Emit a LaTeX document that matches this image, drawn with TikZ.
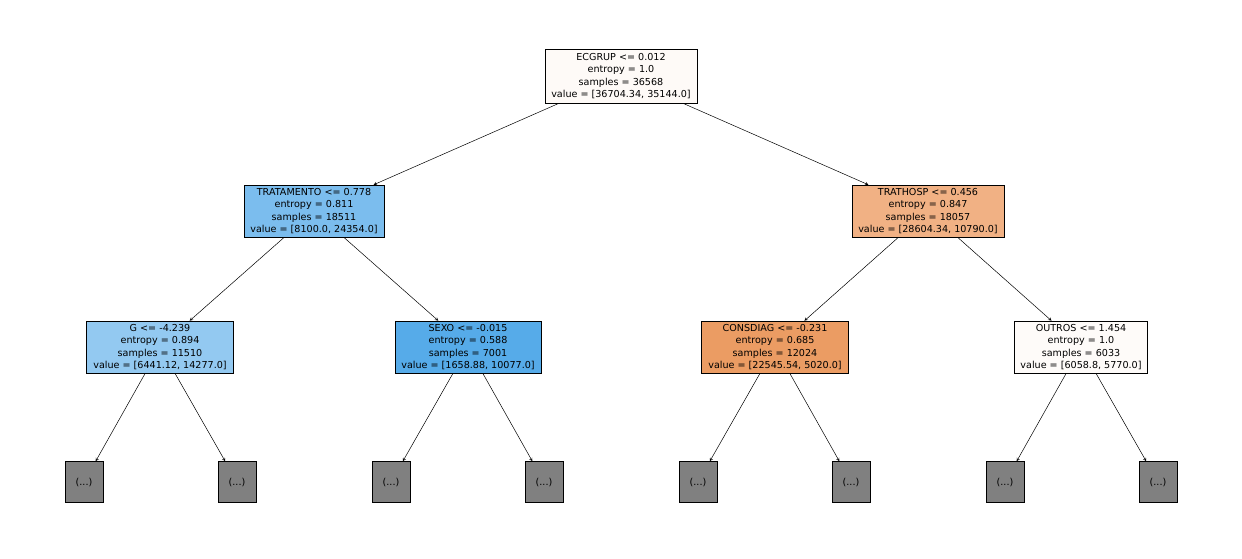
\documentclass[tikz,border=0pt]{standalone}
\usepackage{fontspec}
\setmainfont{DejaVu Sans}
\begin{document}
\begin{tikzpicture}[x=1pt,y=-1pt,
  tn/.style={draw,line width=0.5pt,align=center,inner sep=0pt,font=\fontsize{9.6}{12.4}\selectfont,minimum height=52pt},
  lf/.style={draw,line width=0.5pt,fill=gray!100!white,fill=cgray,minimum width=38pt,minimum height=41pt,inner sep=0pt,font=\fontsize{9.6}{12}\selectfont},
  ed/.style={-stealth,line width=0.5pt}]
\definecolor{cgray}{HTML}{808080}
\useasboundingbox[fill=white] (0,0) rectangle (1242,558);
\node[tn,fill={rgb,255:red,254;green,250;blue,247},minimum width=152pt,minimum height=54pt] (r) at (621,76) {ECGRUP <= 0.012\\entropy = 1.0\\samples = 36568\\value = [36704.34, 35144.0]};
\node[tn,fill={rgb,255:red,123;green,189;blue,238},minimum width=140pt] (a) at (314,211) {TRATAMENTO <= 0.778\\entropy = 0.811\\samples = 18511\\value = [8100.0, 24354.0]};
\node[tn,fill={rgb,255:red,241;green,177;blue,132},minimum width=152pt] (b) at (928,211) {TRATHOSP <= 0.456\\entropy = 0.847\\samples = 18057\\value = [28604.34, 10790.0]};
\node[tn,fill={rgb,255:red,147;green,201;blue,241},minimum width=147pt] (c) at (160,347) {G <= -4.239\\entropy = 0.894\\samples = 11510\\value = [6441.12, 14277.0]};
\node[tn,fill={rgb,255:red,86;green,171;blue,233},minimum width=146pt] (d) at (468,347) {SEXO <= -0.015\\entropy = 0.588\\samples = 7001\\value = [1658.88, 10077.0]};
\node[tn,fill={rgb,255:red,235;green,156;blue,99},minimum width=147pt] (e) at (775,347) {CONSDIAG <= -0.231\\entropy = 0.685\\samples = 12024\\value = [22545.54, 5020.0]};
\node[tn,fill={rgb,255:red,254;green,251;blue,249},minimum width=133pt] (f) at (1081,347) {OUTROS <= 1.454\\entropy = 1.0\\samples = 6033\\value = [6058.8, 5770.0]};
\foreach \n/\x in {l1/84,l2/237,l3/391,l4/544,l5/698,l6/851,l7/1005,l8/1158}
  \node[lf] (\n) at (\x,482) {(...)};
\draw[ed] (r) -- (a); \draw[ed] (r) -- (b);
\draw[ed] (a) -- (c); \draw[ed] (a) -- (d);
\draw[ed] (b) -- (e); \draw[ed] (b) -- (f);
\draw[ed] (c) -- (l1); \draw[ed] (c) -- (l2);
\draw[ed] (d) -- (l3); \draw[ed] (d) -- (l4);
\draw[ed] (e) -- (l5); \draw[ed] (e) -- (l6);
\draw[ed] (f) -- (l7); \draw[ed] (f) -- (l8);
\end{tikzpicture}
\end{document}
